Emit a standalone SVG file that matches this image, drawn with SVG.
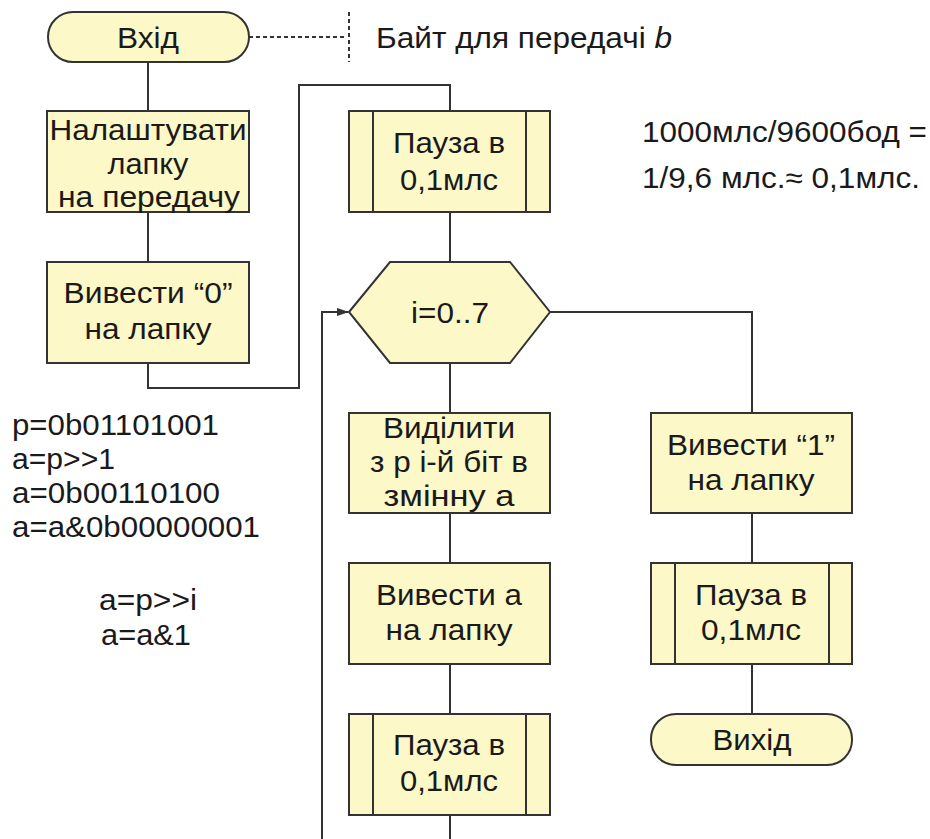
<svg xmlns="http://www.w3.org/2000/svg" width="930" height="839" viewBox="0 0 930 839">
<style>
.n{fill:#FCF8C8;stroke:#333;stroke-width:2}
.l{fill:none;stroke:#333;stroke-width:2}
.t{font-family:"Liberation Sans",Arial,sans-serif;font-size:29px;fill:#1a1a1a}
.c{text-anchor:middle}
</style>
<defs>
<marker id="ar" markerWidth="12" markerHeight="10" refX="11" refY="5" orient="auto" markerUnits="userSpaceOnUse">
<path d="M0,1 L12,5 L0,9 Z" fill="#333"/>
</marker>
</defs>
<rect width="930" height="839" fill="#fff"/>
<g id="connectors">
<path class="l" d="M148,62 V111"/>
<path class="l" d="M148,212 V262"/>
<path class="l" d="M148,363 V388 H299 V85 H450 V111"/>
<path class="l" d="M450,212 V262"/>
<path class="l" d="M450,363 V413"/>
<path class="l" d="M450,513 V563"/>
<path class="l" d="M450,664 V714"/>
<path class="l" d="M450,815 V839"/>
<path class="l" d="M322,839 V312 H348" marker-end="url(#ar)"/>
<path class="l" d="M550,312 H752 V413"/>
<path class="l" d="M752,513 V563"/>
<path class="l" d="M752,664 V714"/>
<path class="l" d="M249,37 H347" stroke-dasharray="4 3"/>
<path class="l" d="M349,12 V62" stroke-dasharray="4 3"/>
</g>
<g id="start">
<rect class="n" x="48" y="12" width="201" height="50" rx="25" ry="25"/>
<text class="t c" x="148" y="48" textLength="62" lengthAdjust="spacingAndGlyphs">Вхід</text>
</g>
<g id="comment-b">
<text class="t" x="376" y="48" textLength="296" lengthAdjust="spacingAndGlyphs">Байт для передачі <tspan font-style="italic">b</tspan></text>
</g>
<g id="setup">
<rect class="n" x="47" y="111" width="202" height="101"/>
<text class="t c" x="148" y="140" textLength="197" lengthAdjust="spacingAndGlyphs">Налаштувати</text>
<text class="t c" x="148" y="174" textLength="81" lengthAdjust="spacingAndGlyphs">лапку</text>
<text class="t c" x="149" y="207" textLength="182" lengthAdjust="spacingAndGlyphs">на передачу</text>
</g>
<g id="out0">
<rect class="n" x="47" y="262" width="202" height="101"/>
<text class="t c" x="148" y="303" textLength="169" lengthAdjust="spacingAndGlyphs">Вивести “0”</text>
<text class="t c" x="148" y="339" textLength="127" lengthAdjust="spacingAndGlyphs">на лапку</text>
</g>
<g id="pause1">
<rect class="n" x="349" y="111" width="201" height="101"/>
<path class="l" d="M373,111 V212 M526,111 V212"/>
<text class="t c" x="449" y="153" textLength="112" lengthAdjust="spacingAndGlyphs">Пауза в</text>
<text class="t c" x="449" y="190" textLength="98" lengthAdjust="spacingAndGlyphs">0,1млс</text>
</g>
<g id="note-baud">
<text class="t" x="642" y="142" textLength="285" lengthAdjust="spacingAndGlyphs">1000млс/9600бод =</text>
<text class="t" x="642" y="188" textLength="278" lengthAdjust="spacingAndGlyphs">1/9,6 млс.≈ 0,1млс.</text>
</g>
<g id="loop">
<polygon class="n" points="349,312 390,262 510,262 550,312 510,363 390,363"/>
<text class="t c" x="450" y="323" textLength="78" lengthAdjust="spacingAndGlyphs">i=0..7</text>
</g>
<g id="note-code">
<text class="t" x="12" y="435" textLength="207" lengthAdjust="spacingAndGlyphs">p=0b01101001</text>
<text class="t" x="12" y="469" textLength="103" lengthAdjust="spacingAndGlyphs">a=p&gt;&gt;1</text>
<text class="t" x="12" y="503" textLength="208" lengthAdjust="spacingAndGlyphs">a=0b00110100</text>
<text class="t" x="12" y="537" textLength="248" lengthAdjust="spacingAndGlyphs">a=a&amp;0b00000001</text>
<text class="t c" x="148" y="610" textLength="98" lengthAdjust="spacingAndGlyphs">a=p&gt;&gt;i</text>
<text class="t c" x="146" y="645" textLength="90" lengthAdjust="spacingAndGlyphs">a=a&amp;1</text>
</g>
<g id="extract">
<rect class="n" x="349" y="413" width="201" height="100"/>
<text class="t c" x="449" y="438" textLength="132" lengthAdjust="spacingAndGlyphs">Виділити</text>
<text class="t c" x="449" y="472" textLength="158" lengthAdjust="spacingAndGlyphs">з р і-й біт в</text>
<text class="t c" x="449" y="506" textLength="131" lengthAdjust="spacingAndGlyphs">змінну а</text>
</g>
<g id="outa">
<rect class="n" x="349" y="563" width="201" height="101"/>
<text class="t c" x="449" y="605" textLength="146" lengthAdjust="spacingAndGlyphs">Вивести а</text>
<text class="t c" x="449" y="640" textLength="127" lengthAdjust="spacingAndGlyphs">на лапку</text>
</g>
<g id="pause3">
<rect class="n" x="349" y="714" width="201" height="101"/>
<path class="l" d="M373,714 V815 M526,714 V815"/>
<text class="t c" x="449" y="755" textLength="112" lengthAdjust="spacingAndGlyphs">Пауза в</text>
<text class="t c" x="449" y="791" textLength="98" lengthAdjust="spacingAndGlyphs">0,1млс</text>
</g>
<g id="out1">
<rect class="n" x="651" y="413" width="201" height="100"/>
<text class="t c" x="751" y="455" textLength="168" lengthAdjust="spacingAndGlyphs">Вивести “1”</text>
<text class="t c" x="751" y="490" textLength="127" lengthAdjust="spacingAndGlyphs">на лапку</text>
</g>
<g id="pause2">
<rect class="n" x="651" y="563" width="201" height="101"/>
<path class="l" d="M675,563 V664 M829,563 V664"/>
<text class="t c" x="751" y="605" textLength="112" lengthAdjust="spacingAndGlyphs">Пауза в</text>
<text class="t c" x="751" y="640" textLength="100" lengthAdjust="spacingAndGlyphs">0,1млс</text>
</g>
<g id="end">
<rect class="n" x="651" y="714" width="201" height="51" rx="25" ry="25"/>
<text class="t c" x="752" y="750" textLength="79" lengthAdjust="spacingAndGlyphs">Вихід</text>
</g>
</svg>
